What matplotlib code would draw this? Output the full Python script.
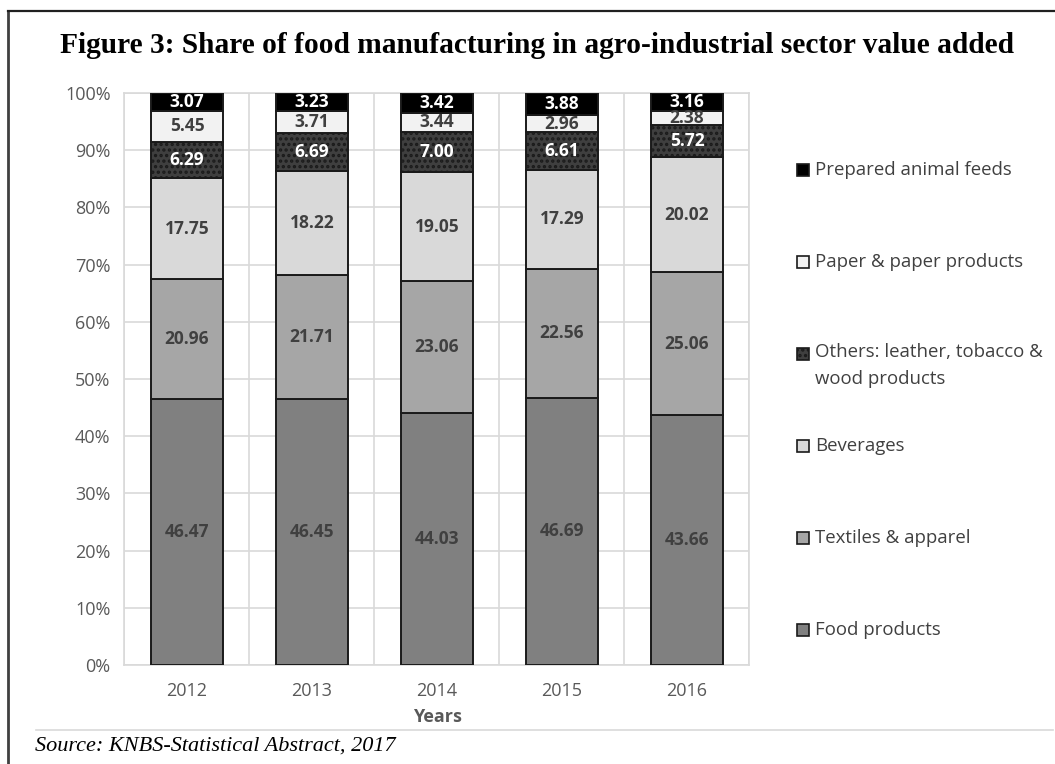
import matplotlib
matplotlib.use('Agg')
import matplotlib.pyplot as plt
from matplotlib.patches import Rectangle
from matplotlib.lines import Line2D
import numpy as np

years = ['2012', '2013', '2014', '2015', '2016']
food = [46.47, 46.45, 44.03, 46.69, 43.66]
textiles = [20.96, 21.71, 23.06, 22.56, 25.06]
beverages = [17.75, 18.22, 19.05, 17.29, 20.02]
others = [6.29, 6.69, 7.00, 6.61, 5.72]
paper = [5.45, 3.71, 3.44, 2.96, 2.38]
feeds = [3.07, 3.23, 3.42, 3.88, 3.16]

series = [
    ('Food products', food, '#808080', None, '#404040'),
    ('Textiles & apparel', textiles, '#a6a6a6', None, '#404040'),
    ('Beverages', beverages, '#d9d9d9', None, '#404040'),
    ('Others: leather, tobacco &\nwood products', others, '#3f3f3f', '...', 'white'),
    ('Paper & paper products', paper, '#f2f2f2', None, '#404040'),
    ('Prepared animal feeds', feeds, '#000000', None, 'white'),
]

plt.rcParams['font.family'] = ['Open Sans', 'DejaVu Sans']
plt.rcParams['hatch.color'] = 'white'
plt.rcParams['hatch.linewidth'] = 1.6

W, H = 1055, 764
fig = plt.figure(figsize=(W / 100, H / 100), dpi=100)
ax = fig.add_axes([0.118, 0.1296, 0.5924, 0.7487])

x = np.arange(len(years))
bottom = np.zeros(len(years))
for name, vals, color, hatch, tcolor in series:
    vals = np.array(vals)
    ax.bar(x, vals, 0.58, bottom=bottom, color=color, edgecolor='#1a1a1a',
           linewidth=1.4, hatch=hatch, zorder=3)
    for xi, b, v in zip(x, bottom, vals):
        ax.text(xi, b + v / 2, f'{v:.2f}', ha='center', va='center',
                fontsize=12.5, fontweight='bold', color=tcolor, zorder=4)
    bottom += vals

ax.set_xlim(-0.5, 4.5)
ax.set_ylim(0, 100)
ax.set_yticks(np.arange(0, 101, 10))
ax.set_yticklabels([f'{t}%' for t in range(0, 101, 10)])
ax.set_xticks(x)
ax.set_xticklabels(years)
ax.set_xticks(np.arange(-0.5, 5, 1), minor=True)
ax.tick_params(axis='both', which='both', length=0, labelsize=13,
               colors='#595959', pad=10)
ax.tick_params(axis='x', pad=12)
ax.grid(axis='y', color='#d9d9d9', linewidth=1.2, zorder=0)
ax.grid(axis='x', which='minor', color='#d9d9d9', linewidth=1.2, zorder=0)
for s in ax.spines.values():
    s.set_color('#d9d9d9')
    s.set_linewidth(1.2)
ax.set_xlabel('Years', fontsize=13, fontweight='bold', color='#595959',
              labelpad=6)

# legend on the right, top layer first, evenly spaced
box = 12
for i, (name, vals, color, hatch, tcolor) in enumerate(series[::-1]):
    yc = 170 + 92 * i
    fig.add_artist(Rectangle((797 / W, 1 - (yc + box / 2) / H), box / W, box / H,
                             transform=fig.transFigure, facecolor=color,
                             edgecolor='#1a1a1a', hatch=hatch, linewidth=1.2))
    if '\n' in name:
        fig.text(815 / W, 1 - (yc - 11) / H, name, ha='left', va='top',
                 fontsize=13.4, color='#404040', linespacing=1.65)
    else:
        fig.text(815 / W, 1 - yc / H, name, ha='left', va='center',
                 fontsize=13.4, color='#404040')

fig.text(0.509, 0.941, 'Figure 3: Share of food manufacturing in agro-industrial sector value added',
         ha='center', va='center', fontsize=21.2, fontweight='bold',
         family='Liberation Serif')
fig.text(0.033, 0.024, 'Source: KNBS-Statistical Abstract, 2017', ha='left',
         va='center', fontsize=16, style='italic', family='Liberation Serif')

# frame lines
fig.add_artist(Line2D([0.0076, 0.0076], [0, 0.986], color='#404040', linewidth=2))
fig.add_artist(Line2D([0.0076, 1.0], [0.986, 0.986], color='#202020', linewidth=1.6))
fig.add_artist(Line2D([0.034, 0.998], [0.0445, 0.0445], color='#d9d9d9', linewidth=1.2))

fig.savefig('out.png', dpi=100)
